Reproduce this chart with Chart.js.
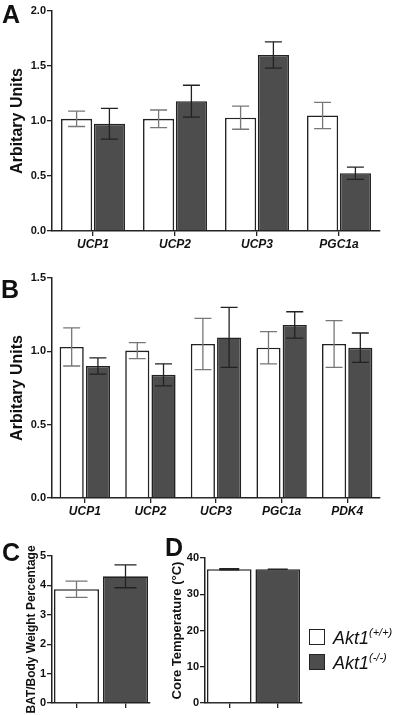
<!DOCTYPE html>
<html>
<head>
<meta charset="utf-8">
<script src="https://cdn.jsdelivr.net/npm/chart.js@4"></script>
<style>
body { margin: 0; background: #fff; width: 400px; height: 715px; position: relative; overflow: hidden; font-family: "Liberation Sans", Arial, sans-serif; }
.panel { position: absolute; }
.letter { position: absolute; font-size: 25px; font-weight: bold; line-height: 24px; color: #111; }
.legend { position: absolute; left: 309px; top: 626px; font-style: italic; font-size: 18px; color: #111; }
.legend div { height: 25px; line-height: 25px; white-space: nowrap; }
.legend span.box { display: inline-block; width: 14px; height: 14px; border: 1.5px solid #222; margin-right: 8px; vertical-align: -1px; }
.legend span.sup { font-size: 11px; position: relative; top: -8px; }
</style>
</head>
<body>
<div class="panel" style="left:0;top:0"><canvas id="chartA" width="400" height="250"></canvas></div>
<div class="panel" style="left:0;top:250px"><canvas id="chartB" width="400" height="270"></canvas></div>
<div class="panel" style="left:0;top:520px"><canvas id="chartC" width="160" height="195"></canvas></div>
<div class="panel" style="left:160px;top:520px"><canvas id="chartD" width="150" height="195"></canvas></div>

<div class="letter" style="left:2px;top:2px">A</div>
<div class="letter" style="left:1px;top:277px">B</div>
<div class="letter" style="left:2px;top:540px">C</div>
<div class="letter" style="left:165px;top:535px">D</div>

<div class="legend">
  <div><span class="box" style="background:#fff"></span>Akt1<span class="sup">(+/+)</span></div>
  <div><span class="box" style="background:#4d4d4d"></span>Akt1<span class="sup">(-/-)</span></div>
</div>

<script>
// panel A
var genesA = ['UCP1', 'UCP2', 'UCP3', 'PGC1a'];
var wtA = [1.02, 1.02, 1.03, 1.05];
var wtErrA = [0.07, 0.08, 0.105, 0.12];
var koA = [0.975, 1.18, 1.60, 0.525];
var koErrA = [0.14, 0.145, 0.12, 0.055];

// panel B
var genesB = ['UCP1', 'UCP2', 'UCP3', 'PGC1a', 'PDK4'];
var wtB = [1.03, 1.005, 1.05, 1.025, 1.05];
var wtErrB = [0.13, 0.055, 0.175, 0.11, 0.16];
var koB = [0.90, 0.84, 1.095, 1.18, 1.025];
var koErrB = [0.055, 0.075, 0.205, 0.09, 0.10];

// panel C, D (wt, ko)
var batWeight = [3.87, 4.31];
var batErr = [0.275, 0.39];
var coreTemp = [36.9, 36.9];
var coreErr = [0.15, 0.05];

var ticksA = [0, 0.5, 1.0, 1.5, 2.0];
var ticksB = [0, 0.5, 1.0, 1.5];
var ticksC = [0, 1, 2, 3, 4, 5];
var ticksD = [0, 10, 20, 30, 40];

var FONT = '"Liberation Sans", Arial, sans-serif';
var INK = '#222';
var WHITE = '#ffffff';
var DARK = '#4d4d4d';

var errorBars = {
    id: 'errorBars',
    afterDatasetsDraw: function(chart){
        var ctx = chart.ctx;
        var yScale = chart.scales.y;
        chart.data.datasets.forEach(function(ds, di){
            var meta = chart.getDatasetMeta(di);
            meta.data.forEach(function(bar, i){
                var v = ds.data[i];
                var e = ds.errors[i];
                var top = yScale.getPixelForValue(v + e);
                var bot = yScale.getPixelForValue(v - e);
                var color = Array.isArray(ds.errorColor) ? ds.errorColor[i] : ds.errorColor;
                ctx.save();
                ctx.strokeStyle = color;
                ctx.lineWidth = 1.3;
                ctx.beginPath();
                ctx.moveTo(bar.x, top);
                ctx.lineTo(bar.x, bot);
                ctx.moveTo(bar.x - ds.capWidth, top);
                ctx.lineTo(bar.x + ds.capWidth, top);
                ctx.moveTo(bar.x - ds.capWidth, bot);
                ctx.lineTo(bar.x + ds.capWidth, bot);
                ctx.stroke();
                ctx.restore();
            });
        });
    }
};

function MakeOptions(cfg){
    return {
        responsive: false,
        animation: false,
        devicePixelRatio: 1,
        layout: { padding: { top: cfg.padTop, right: cfg.padRight, left: 0, bottom: 0 } },
        plugins: { legend: { display: false }, tooltip: { enabled: false } },
        scales: {
            x: {
                offset: true,
                grid: { display: true, drawOnChartArea: false, offset: false, tickLength: 5, color: INK, lineWidth: 1.3 },
                border: { display: true, color: INK, width: 1.5 },
                ticks: { color: '#111', padding: 1, font: { family: FONT, size: 12, weight: 'bold', style: 'italic' } },
                afterFit: function(scale){ scale.height = cfg.xHeight; }
            },
            y: {
                min: 0,
                max: cfg.yMax,
                afterBuildTicks: function(scale){
                    scale.ticks = cfg.yTicks.map(function(v){ return { value: v }; });
                },
                grid: { display: true, drawOnChartArea: false, tickLength: 5, color: INK, lineWidth: 1.3 },
                border: { display: true, color: INK, width: 1.5 },
                ticks: {
                    color: '#111', padding: 1,
                    font: { family: FONT, size: 11, weight: 'bold' },
                    callback: function(v){ return cfg.decimals ? v.toFixed(1) : String(v); }
                },
                title: {
                    display: true, text: cfg.yTitle, color: '#111',
                    padding: { top: cfg.titlePad, bottom: 0 },
                    font: { family: FONT, size: cfg.titleSize, weight: 'bold' }
                },
                afterFit: function(scale){ scale.width = cfg.yWidth; }
            }
        }
    };
}

new Chart(document.getElementById('chartA').getContext('2d'), {
    type: 'bar',
    data: {
        labels: genesA,
        datasets: [
            { data: wtA, errors: wtErrA, errorColor: '#777', capWidth: 8.5, backgroundColor: WHITE, borderColor: INK, borderWidth: 1.6, categoryPercentage: 0.8, barPercentage: 0.95 },
            { data: koA, errors: koErrA, errorColor: INK, capWidth: 8.5, backgroundColor: DARK, borderColor: INK, borderWidth: 1.6, categoryPercentage: 0.8, barPercentage: 0.95 }
        ]
    },
    options: MakeOptions({ padTop: 11, padRight: 20, xHeight: 19, yWidth: 52, yMax: 2.0, yTicks: ticksA, decimals: true, yTitle: 'Arbitary Units', titleSize: 16, titlePad: 8 }),
    plugins: [errorBars]
});

new Chart(document.getElementById('chartB').getContext('2d'), {
    type: 'bar',
    data: {
        labels: genesB,
        datasets: [
            { data: wtB, errors: wtErrB, errorColor: '#777', capWidth: 8.5, backgroundColor: WHITE, borderColor: INK, borderWidth: 1.6, categoryPercentage: 0.8, barPercentage: 0.92 },
            { data: koB, errors: koErrB, errorColor: INK, capWidth: 8.5, backgroundColor: DARK, borderColor: INK, borderWidth: 1.6, categoryPercentage: 0.8, barPercentage: 0.92 }
        ]
    },
    options: MakeOptions({ padTop: 28, padRight: 20, xHeight: 22, yWidth: 52, yMax: 1.5, yTicks: ticksB, decimals: true, yTitle: 'Arbitary Units', titleSize: 16, titlePad: 8 }),
    plugins: [errorBars]
});

new Chart(document.getElementById('chartC').getContext('2d'), {
    type: 'bar',
    data: {
        labels: ['', ''],
        datasets: [
            { data: batWeight, errors: batErr, errorColor: ['#777', INK], capWidth: 11, backgroundColor: [WHITE, DARK], borderColor: INK, borderWidth: 1.6, categoryPercentage: 0.92, barPercentage: 1 }
        ]
    },
    options: MakeOptions({ padTop: 36, padRight: 10, xHeight: 12, yWidth: 52, yMax: 5, yTicks: ticksC, decimals: false, yTitle: 'BAT/Body Weight Percentage', titleSize: 12, titlePad: 24 }),
    plugins: [errorBars]
});

new Chart(document.getElementById('chartD').getContext('2d'), {
    type: 'bar',
    data: {
        labels: ['', ''],
        datasets: [
            { data: coreTemp, errors: coreErr, errorColor: [INK, INK], capWidth: 10, backgroundColor: [WHITE, DARK], borderColor: INK, borderWidth: 1.6, categoryPercentage: 0.92, barPercentage: 1 }
        ]
    },
    options: MakeOptions({ padTop: 38, padRight: 8, xHeight: 12, yWidth: 45, yMax: 40, yTicks: ticksD, decimals: false, yTitle: 'Core Temperature (°C)', titleSize: 13, titlePad: 10 }),
    plugins: [errorBars]
});
</script>
</body>
</html>
